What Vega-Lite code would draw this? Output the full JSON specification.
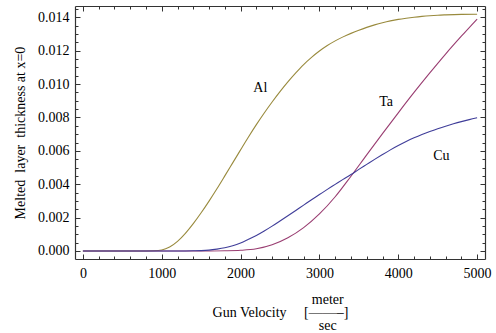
{
  "$schema": "https://vega.github.io/schema/vega-lite/v6.json",
  "width": 410,
  "height": 253,
  "autosize": {"type": "none"},
  "padding": {"left": 75, "top": 6, "right": 11, "bottom": 74},
  "background": "white",
  "config": {
    "view": {"stroke": null},
    "font": "Liberation Serif",
    "axis": {
      "labelFont": "Liberation Serif",
      "titleFont": "Liberation Serif",
      "labelFontSize": 14,
      "titleFontSize": 14,
      "titleFontWeight": "normal",
      "labelColor": "#000",
      "titleColor": "#000",
      "domainColor": "#333",
      "tickColor": "#333",
      "domainWidth": 1.2,
      "tickWidth": 1,
      "grid": false
    }
  },
  "datasets": {
    "curves": [
      {"v": 0, "t": 0, "m": "Al"}, {"v": 200, "t": 0, "m": "Al"}, {"v": 400, "t": 0, "m": "Al"}, {"v": 600, "t": 0, "m": "Al"}, {"v": 800, "t": 0, "m": "Al"}, {"v": 900, "t": 0.00001, "m": "Al"}, {"v": 1000, "t": 0.00006, "m": "Al"}, {"v": 1100, "t": 0.00024, "m": "Al"}, {"v": 1200, "t": 0.00058, "m": "Al"}, {"v": 1300, "t": 0.00106, "m": "Al"}, {"v": 1400, "t": 0.00164, "m": "Al"}, {"v": 1500, "t": 0.00229, "m": "Al"}, {"v": 1600, "t": 0.00299, "m": "Al"}, {"v": 1700, "t": 0.00373, "m": "Al"}, {"v": 1800, "t": 0.0045, "m": "Al"}, {"v": 1900, "t": 0.00528, "m": "Al"}, {"v": 2000, "t": 0.00606, "m": "Al"}, {"v": 2100, "t": 0.00683, "m": "Al"}, {"v": 2200, "t": 0.00757, "m": "Al"}, {"v": 2300, "t": 0.00827, "m": "Al"}, {"v": 2400, "t": 0.00893, "m": "Al"}, {"v": 2500, "t": 0.00955, "m": "Al"}, {"v": 2600, "t": 0.01013, "m": "Al"}, {"v": 2700, "t": 0.01067, "m": "Al"}, {"v": 2800, "t": 0.01117, "m": "Al"}, {"v": 2900, "t": 0.0116, "m": "Al"}, {"v": 3000, "t": 0.01198, "m": "Al"}, {"v": 3100, "t": 0.01231, "m": "Al"}, {"v": 3200, "t": 0.01259, "m": "Al"}, {"v": 3300, "t": 0.01283, "m": "Al"}, {"v": 3400, "t": 0.01304, "m": "Al"}, {"v": 3500, "t": 0.01323, "m": "Al"}, {"v": 3600, "t": 0.0134, "m": "Al"}, {"v": 3700, "t": 0.01355, "m": "Al"}, {"v": 3800, "t": 0.01368, "m": "Al"}, {"v": 3900, "t": 0.01379, "m": "Al"}, {"v": 4000, "t": 0.01388, "m": "Al"}, {"v": 4100, "t": 0.01395, "m": "Al"}, {"v": 4200, "t": 0.01401, "m": "Al"}, {"v": 4300, "t": 0.01406, "m": "Al"}, {"v": 4400, "t": 0.0141, "m": "Al"}, {"v": 4500, "t": 0.01413, "m": "Al"}, {"v": 4600, "t": 0.01415, "m": "Al"}, {"v": 4800, "t": 0.01418, "m": "Al"}, {"v": 5000, "t": 0.01419, "m": "Al"},
      {"v": 0, "t": 0, "m": "Ta"}, {"v": 400, "t": 0, "m": "Ta"}, {"v": 800, "t": 0, "m": "Ta"}, {"v": 1200, "t": 0, "m": "Ta"}, {"v": 1600, "t": 0, "m": "Ta"}, {"v": 1800, "t": 0.00001, "m": "Ta"}, {"v": 2000, "t": 0.00004, "m": "Ta"}, {"v": 2200, "t": 0.00013, "m": "Ta"}, {"v": 2400, "t": 0.00037, "m": "Ta"}, {"v": 2600, "t": 0.00079, "m": "Ta"}, {"v": 2800, "t": 0.0014, "m": "Ta"}, {"v": 3000, "t": 0.00222, "m": "Ta"}, {"v": 3200, "t": 0.00325, "m": "Ta"}, {"v": 3400, "t": 0.00448, "m": "Ta"}, {"v": 3600, "t": 0.00576, "m": "Ta"}, {"v": 3800, "t": 0.00703, "m": "Ta"}, {"v": 4000, "t": 0.00828, "m": "Ta"}, {"v": 4200, "t": 0.0095, "m": "Ta"}, {"v": 4400, "t": 0.01067, "m": "Ta"}, {"v": 4600, "t": 0.0118, "m": "Ta"}, {"v": 4800, "t": 0.01287, "m": "Ta"}, {"v": 5000, "t": 0.0139, "m": "Ta"},
      {"v": 0, "t": 0, "m": "Cu"}, {"v": 400, "t": 0, "m": "Cu"}, {"v": 800, "t": 0, "m": "Cu"}, {"v": 1200, "t": 0, "m": "Cu"}, {"v": 1300, "t": 0.000003, "m": "Cu"}, {"v": 1400, "t": 0.00001, "m": "Cu"}, {"v": 1500, "t": 0.00002, "m": "Cu"}, {"v": 1600, "t": 0.00005, "m": "Cu"}, {"v": 1700, "t": 0.00011, "m": "Cu"}, {"v": 1800, "t": 0.00019, "m": "Cu"}, {"v": 1900, "t": 0.00031, "m": "Cu"}, {"v": 2000, "t": 0.00048, "m": "Cu"}, {"v": 2100, "t": 0.0007, "m": "Cu"}, {"v": 2200, "t": 0.00093, "m": "Cu"}, {"v": 2300, "t": 0.0012, "m": "Cu"}, {"v": 2400, "t": 0.00149, "m": "Cu"}, {"v": 2500, "t": 0.0018, "m": "Cu"}, {"v": 2600, "t": 0.00211, "m": "Cu"}, {"v": 2700, "t": 0.00243, "m": "Cu"}, {"v": 2800, "t": 0.00275, "m": "Cu"}, {"v": 2900, "t": 0.00307, "m": "Cu"}, {"v": 3000, "t": 0.00338, "m": "Cu"}, {"v": 3100, "t": 0.00369, "m": "Cu"}, {"v": 3200, "t": 0.00399, "m": "Cu"}, {"v": 3300, "t": 0.00429, "m": "Cu"}, {"v": 3400, "t": 0.00458, "m": "Cu"}, {"v": 3500, "t": 0.00489, "m": "Cu"}, {"v": 3600, "t": 0.00519, "m": "Cu"}, {"v": 3700, "t": 0.00549, "m": "Cu"}, {"v": 3800, "t": 0.00578, "m": "Cu"}, {"v": 3900, "t": 0.00606, "m": "Cu"}, {"v": 4000, "t": 0.00632, "m": "Cu"}, {"v": 4100, "t": 0.00656, "m": "Cu"}, {"v": 4200, "t": 0.00678, "m": "Cu"}, {"v": 4300, "t": 0.00698, "m": "Cu"}, {"v": 4400, "t": 0.00716, "m": "Cu"}, {"v": 4500, "t": 0.00733, "m": "Cu"}, {"v": 4600, "t": 0.00748, "m": "Cu"}, {"v": 4700, "t": 0.00762, "m": "Cu"}, {"v": 4800, "t": 0.00775, "m": "Cu"}, {"v": 4900, "t": 0.00787, "m": "Cu"}, {"v": 5000, "t": 0.00798, "m": "Cu"}
    ],
    "labels": [
      {"v": 2250, "t": 0.00976, "name": "Al"},
      {"v": 3845, "t": 0.00894, "name": "Ta"},
      {"v": 4547, "t": 0.00569, "name": "Cu"}
    ]
  },
  "layer": [
    {
      "data": {"name": "curves"},
      "mark": {"type": "line", "strokeWidth": 1.1, "interpolate": "monotone", "clip": true},
      "encoding": {
        "x": {
          "field": "v", "type": "quantitative",
          "scale": {"domain": [-100, 5100], "nice": false, "zero": false},
          "axis": {
            "orient": "bottom",
            "values": [0, 1000, 2000, 3000, 4000, 5000],
            "format": "d",
            "ticks": false,
            "labelPadding": 7,
            "domain": true,
            "title": [
              "\u200b\u00a0\u00a0\u00a0\u00a0\u00a0\u00a0\u00a0\u00a0\u00a0\u00a0\u00a0\u00a0\u00a0\u00a0\u00a0\u00a0\u00a0\u00a0\u00a0\u00a0\u00a0\u00a0\u00a0\u00a0\u00a0\u00a0\u00a0meter",
              "Gun Velocity\u00a0\u00a0\u00a0\u00a0\u00a0[\u2014\u2014\u2013]",
              "\u200b\u00a0\u00a0\u00a0\u00a0\u00a0\u00a0\u00a0\u00a0\u00a0\u00a0\u00a0\u00a0\u00a0\u00a0\u00a0\u00a0\u00a0\u00a0\u00a0\u00a0\u00a0\u00a0\u00a0\u00a0\u00a0\u00a0\u00a0sec"
            ],
            "titlePadding": 12,
            "titleLineHeight": 13
          }
        },
        "y": {
          "field": "t", "type": "quantitative",
          "scale": {"domain": [-0.00048, 0.01468], "nice": false, "zero": false},
          "axis": {
            "orient": "left",
            "values": [0, 0.002, 0.004, 0.006, 0.008, 0.01, 0.012, 0.014],
            "format": ".3f",
            "ticks": false,
            "labelPadding": 6,
            "domain": true,
            "title": "Melted\u00a0 layer\u00a0 thickness at x=0",
            "titlePadding": 10
          }
        },
        "color": {
          "field": "m", "type": "nominal",
          "scale": {"domain": ["Al", "Ta", "Cu"], "range": ["#998A3D", "#993D71", "#3F3D99"]},
          "legend": null
        }
      }
    },
    {
      "data": {"name": "labels"},
      "mark": {"type": "text", "fontSize": 14, "font": "Liberation Serif", "color": "#000", "align": "center", "baseline": "middle"},
      "encoding": {
        "x": {
          "field": "v", "type": "quantitative",
          "scale": {"domain": [-100, 5100], "nice": false, "zero": false},
          "axis": {
            "orient": "bottom", "labels": false, "domain": false, "title": null,
            "values": [0, 200, 400, 600, 800, 1000, 1200, 1400, 1600, 1800, 2000, 2200, 2400, 2600, 2800, 3000, 3200, 3400, 3600, 3800, 4000, 4200, 4400, 4600, 4800, 5000],
            "tickSize": {"condition": {"test": "datum.value % 1000 === 0", "value": -5}, "value": -3}
          }
        },
        "y": {
          "field": "t", "type": "quantitative",
          "scale": {"domain": [-0.00048, 0.01468], "nice": false, "zero": false},
          "axis": {
            "orient": "left", "labels": false, "domain": false, "title": null,
            "values": [0, 0.0005, 0.001, 0.0015, 0.002, 0.0025, 0.003, 0.0035, 0.004, 0.0045, 0.005, 0.0055, 0.006, 0.0065, 0.007, 0.0075, 0.008, 0.0085, 0.009, 0.0095, 0.01, 0.0105, 0.011, 0.0115, 0.012, 0.0125, 0.013, 0.0135, 0.014, 0.0145],
            "tickSize": {"condition": {"test": "abs(datum.value * 500 - round(datum.value * 500)) < 0.000001", "value": -5}, "value": -3}
          }
        },
        "text": {"field": "name", "type": "nominal"}
      }
    },
    {
      "data": {"name": "labels"},
      "mark": {"type": "point", "opacity": 0},
      "encoding": {
        "x": {
          "field": "v", "type": "quantitative",
          "scale": {"domain": [-100, 5100], "nice": false, "zero": false},
          "axis": {
            "orient": "top", "labels": false, "domain": true, "title": null,
            "values": [0, 200, 400, 600, 800, 1000, 1200, 1400, 1600, 1800, 2000, 2200, 2400, 2600, 2800, 3000, 3200, 3400, 3600, 3800, 4000, 4200, 4400, 4600, 4800, 5000],
            "tickSize": {"condition": {"test": "datum.value % 1000 === 0", "value": -5}, "value": -3}
          }
        },
        "y": {
          "field": "t", "type": "quantitative",
          "scale": {"domain": [-0.00048, 0.01468], "nice": false, "zero": false},
          "axis": {
            "orient": "right", "labels": false, "domain": true, "title": null,
            "values": [0, 0.0005, 0.001, 0.0015, 0.002, 0.0025, 0.003, 0.0035, 0.004, 0.0045, 0.005, 0.0055, 0.006, 0.0065, 0.007, 0.0075, 0.008, 0.0085, 0.009, 0.0095, 0.01, 0.0105, 0.011, 0.0115, 0.012, 0.0125, 0.013, 0.0135, 0.014, 0.0145],
            "tickSize": {"condition": {"test": "abs(datum.value * 500 - round(datum.value * 500)) < 0.000001", "value": -5}, "value": -3}
          }
        }
      }
    }
  ],
  "resolve": {"axis": {"x": "independent", "y": "independent"}}
}
